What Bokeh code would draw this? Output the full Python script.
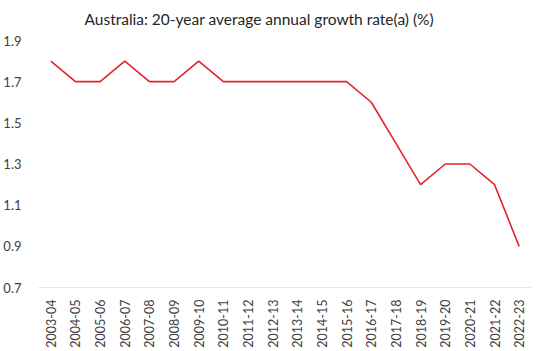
from bokeh.plotting import figure
from bokeh.models import FactorRange, Range1d, FixedTicker, Label
from bokeh.embed import file_html
from bokeh.resources import INLINE

years = ["2003-04", "2004-05", "2005-06", "2006-07", "2007-08", "2008-09", "2009-10",
         "2010-11", "2011-12", "2012-13", "2013-14", "2014-15", "2015-16", "2016-17",
         "2017-18", "2018-19", "2019-20", "2020-21", "2021-22", "2022-23"]
growth = [1.8, 1.7, 1.7, 1.8, 1.7, 1.7, 1.8, 1.7, 1.7, 1.7, 1.7, 1.7, 1.7, 1.6,
          1.4, 1.2, 1.3, 1.3, 1.2, 0.9]
y_ticks = [0.7, 0.9, 1.1, 1.3, 1.5, 1.7, 1.9]
title_text = "Australia: 20-year average annual growth rate(a) (%)"

FONT = "Lato"
# frame spans the full height above the x axis; headroom above 1.9 holds the title
y_top = 1.9 + 40 / 247 * 1.2
p = figure(width=540, height=351, x_range=FactorRange(*years), y_range=Range1d(0.7, y_top),
           output_backend="svg", toolbar_location=None,
           min_border_left=37, min_border_right=9, min_border_top=0, min_border_bottom=64)

title = Label(x=46, y=269, x_units="screen", y_units="screen", text=title_text,
              text_font=FONT, text_font_size="15.5px", text_color="#262626",
              text_align="left", text_baseline="alphabetic")
p.add_layout(title)

p.line(years, growth, line_color="#e3242b", line_width=1.6)

p.outline_line_color = None
p.xgrid.grid_line_color = None
p.ygrid.grid_line_color = None
p.background_fill_color = "white"
p.border_fill_color = "white"

p.yaxis.ticker = FixedTicker(ticks=y_ticks)
p.yaxis.axis_line_color = None
p.yaxis.major_tick_line_color = None
p.yaxis.minor_tick_line_color = None
p.yaxis.major_label_text_font = FONT
p.yaxis.major_label_text_font_size = "13px"
p.yaxis.major_label_text_color = "#404040"
p.yaxis.major_label_standoff = 11

p.xaxis.axis_line_color = "#e6e6e6"
p.xaxis.major_tick_line_color = None
p.xaxis.minor_tick_line_color = None
p.xaxis.major_label_orientation = 1.5708
p.xaxis.major_label_text_font = FONT
p.xaxis.major_label_text_font_size = "12.5px"
p.xaxis.major_label_text_color = "#404040"
p.xaxis.major_label_standoff = 6

open("out.html", "w").write(file_html(p, INLINE))
